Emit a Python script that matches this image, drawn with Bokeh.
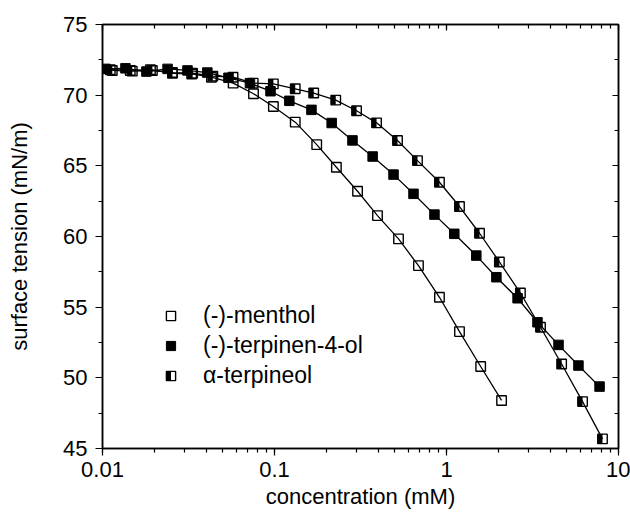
from bokeh.plotting import figure
from bokeh.models import (Range1d, LogAxis, LinearAxis, CustomJSTickFormatter, CustomJS,
                          LogTicker, BasicTicker, Legend, LegendItem)
from bokeh.embed import file_html
from bokeh.resources import INLINE

# (-)-menthol
conc_menthol = [0.0111, 0.0145, 0.019, 0.0255, 0.033, 0.043, 0.0575, 0.0755, 0.0985, 0.132,
                0.176, 0.229, 0.304, 0.397, 0.526, 0.687, 0.91, 1.19, 1.58, 2.09]
st_menthol = [71.8, 71.75, 71.8, 71.55, 71.5, 71.27, 70.85, 70.1, 69.2, 68.09,
              66.5, 64.9, 63.2, 61.48, 59.83, 57.94, 55.7, 53.27, 50.8, 48.4]

# (-)-terpinen-4-ol
conc_terpinen = [0.0104, 0.0136, 0.018, 0.0239, 0.0312, 0.0407, 0.054, 0.072, 0.0948, 0.122,
                 0.164, 0.215, 0.284, 0.372, 0.492, 0.643, 0.851, 1.11, 1.49, 1.95,
                 2.59, 3.38, 4.48, 5.85, 7.76]
st_terpinen = [71.86, 71.9, 71.67, 71.86, 71.75, 71.6, 71.23, 70.85, 70.28, 69.6,
               68.96, 68.03, 66.8, 65.66, 64.38, 63.02, 61.55, 60.19, 58.65, 57.12,
               55.63, 53.93, 52.33, 50.87, 49.38]

# alpha-terpineol
conc_terpineol = [0.0114, 0.0149, 0.0195, 0.0255, 0.0334, 0.0438, 0.0574, 0.0752, 0.0985, 0.132,
                  0.169, 0.227, 0.30, 0.392, 0.519, 0.678, 0.91, 1.19, 1.556, 2.03,
                  2.69, 3.52, 4.67, 6.18, 8.07]
st_terpineol = [71.75, 71.7, 71.75, 71.6, 71.55, 71.35, 71.27, 70.85, 70.8, 70.45,
                70.15, 69.65, 68.9, 68.04, 66.79, 65.37, 63.84, 62.12, 60.23, 58.2,
                56.0, 53.58, 50.98, 48.32, 45.68]

series_names = ["(-)-menthol", "(-)-terpinen-4-ol", "\u03b1-terpineol"]
x_label = "concentration (mM)"
y_label = "surface tension (mN/m)"

FONT = "Liberation Sans"
FS = "22px"

p = figure(width=630, height=516, x_axis_type="log",
           x_range=Range1d(0.01, 10), y_range=Range1d(45, 75),
           output_backend="svg", toolbar_location=None,
           min_border_left=102, min_border_right=12, min_border_top=24, min_border_bottom=68)
p.grid.visible = False
p.outline_line_color = "black"
p.outline_line_width = 1.5

for ax in (p.xaxis[0], p.yaxis[0]):
    ax.axis_line_width = 1.5
    ax.major_tick_line_width = 1.2
    ax.minor_tick_line_width = 1.2
    ax.major_label_text_font = FONT
    ax.major_label_text_font_size = FS
    ax.major_label_text_color = "black"
    ax.axis_label_text_font = FONT
    ax.axis_label_text_font_size = FS
    ax.axis_label_text_font_style = "normal"
    ax.axis_label_text_color = "black"
    ax.major_tick_in = 0
    ax.major_tick_out = 7
    ax.minor_tick_in = 0
    ax.minor_tick_out = 4

p.xaxis[0].axis_label = x_label
p.xaxis[0].major_label_standoff = 6
p.xaxis[0].axis_label_standoff = 4
p.xaxis[0].ticker = LogTicker(num_minor_ticks=10)
p.xaxis[0].formatter = CustomJSTickFormatter(code="return String(tick)")
p.yaxis[0].axis_label = y_label
p.yaxis[0].major_label_standoff = 8
p.yaxis[0].axis_label_standoff = 28
p.yaxis[0].ticker = BasicTicker(desired_num_ticks=7, num_minor_ticks=2)

blank = CustomJSTickFormatter(code="return ''")
top = LogAxis(ticker=LogTicker(num_minor_ticks=10), formatter=blank,
              major_tick_in=6, major_tick_out=0, minor_tick_in=4, minor_tick_out=0,
              major_label_standoff=0, axis_line_width=1.5,
              major_tick_line_width=1.2, minor_tick_line_width=1.2)
right = LinearAxis(ticker=BasicTicker(desired_num_ticks=7, num_minor_ticks=2), formatter=blank,
                   major_tick_in=6, major_tick_out=0, minor_tick_in=4, minor_tick_out=0,
                   major_label_standoff=0, axis_line_width=1.5,
                   major_tick_line_width=1.2, minor_tick_line_width=1.2)
p.add_layout(top, "above")
p.add_layout(right, "right")

# curves
p.line(conc_menthol, st_menthol, line_color="black", line_width=1.3)
p.line(conc_terpinen, st_terpinen, line_color="black", line_width=1.3)
p.line(conc_terpineol, st_terpineol, line_color="black", line_width=1.3)

# half-filled square marker (left half black)
half_square = CustomJS(code="""
export default (args, obj, {ctx, i, r, visuals}) => {
  ctx.beginPath()
  ctx.rect(-r, -r, r, 2*r)
  ctx.fillStyle = "black"
  ctx.fill()
  ctx.beginPath()
  ctx.rect(-r, -r, 2*r, 2*r)
  visuals.line.apply(ctx, i)
}
""")

r_men = p.scatter(conc_menthol, st_menthol, marker="square", size=9.5, fill_alpha=0,
                  line_color="black", line_width=1.4)
r_ter = p.scatter(conc_terpinen, st_terpinen, marker="square", size=9.5, fill_color="black",
                  line_color="black", line_width=1.0)
r_tpo = p.scatter(conc_terpineol, st_terpineol, marker="@half", defs={"@half": half_square},
                  size=9.5, fill_alpha=0, line_color="black", line_width=1.4)

legend = Legend(items=[LegendItem(label=series_names[0], renderers=[r_men]),
                       LegendItem(label=series_names[1], renderers=[r_ter]),
                       LegendItem(label=series_names[2], renderers=[r_tpo])],
                location=(57, 59), orientation="vertical",
                glyph_width=23, glyph_height=25, label_height=25, spacing=3,
                label_standoff=21, padding=0, margin=0,
                border_line_color=None, background_fill_alpha=0,
                label_text_font=FONT, label_text_font_size="23px", label_text_color="black")
p.add_layout(legend, "center")

open("out.html", "w").write(file_html(p, INLINE))
